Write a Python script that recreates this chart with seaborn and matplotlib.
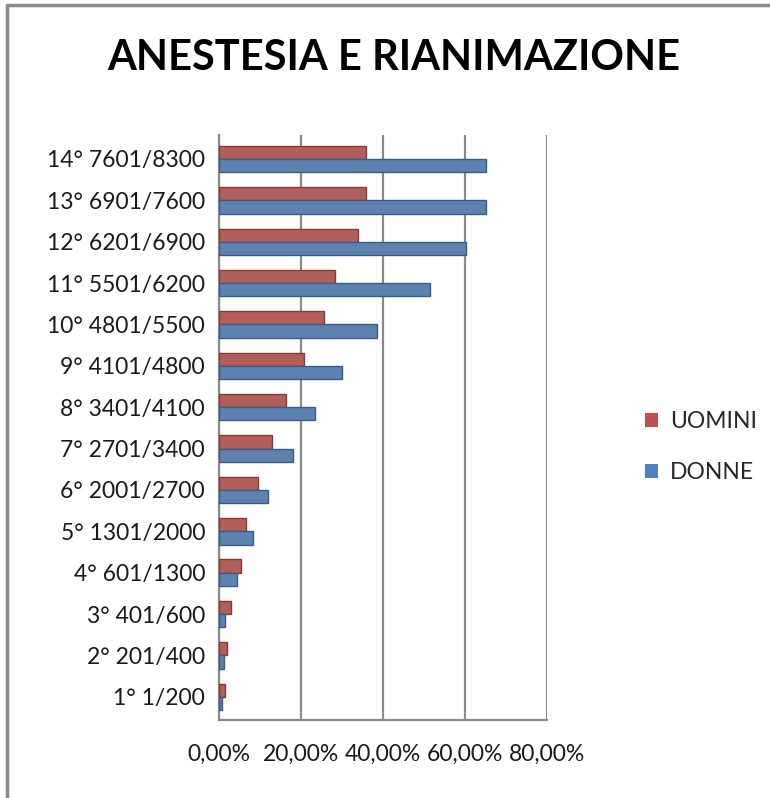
import numpy as np
import pandas as pd
import seaborn as sns
import matplotlib.pyplot as plt
from matplotlib.patches import Patch
from matplotlib.lines import Line2D
from matplotlib.ticker import FuncFormatter

# fasce di reddito, dall'alto in basso come nel grafico
fasce = ['14° 7601/8300', '13° 6901/7600', '12° 6201/6900', '11° 5501/6200',
         '10° 4801/5500', '9° 4101/4800', '8° 3401/4100', '7° 2701/3400',
         '6° 2001/2700', '5° 1301/2000', '4° 601/1300', '3° 401/600',
         '2° 201/400', '1° 1/200']
uomini = [35.9, 35.8, 33.9, 28.4, 25.6, 20.8, 16.4, 12.9, 9.6, 6.5, 5.3, 2.9, 2.0, 1.4]
donne = [65.2, 65.2, 60.2, 51.5, 38.5, 30.1, 23.4, 18.0, 12.0, 8.2, 4.5, 1.5, 1.1, 0.8]
serie = ['UOMINI', 'DONNE']
colori = {'UOMINI': '#C0504D', 'DONNE': '#4F81BD'}
bordi = {'UOMINI': '#8C3836', 'DONNE': '#385D8A'}
xticks = [0, 20, 40, 60, 80]

df = pd.DataFrame({'fascia': fasce * 2,
                   'serie': ['UOMINI'] * len(fasce) + ['DONNE'] * len(fasce),
                   'valore': uomini + donne})

sns.set_style('white')
plt.rcParams['font.family'] = ['Lato', 'DejaVu Sans']

fig = plt.figure(figsize=(7.7, 7.98), dpi=100)
ax = fig.add_axes([219 / 770, 1 - 720 / 798, 328 / 770, 585 / 798])

sns.barplot(data=df, x='valore', y='fascia', hue='serie', order=fasce,
            hue_order=serie, palette=colori, orient='h', width=0.64,
            legend=False, ax=ax, zorder=3)
for cont, s in zip(ax.containers, serie):
    for bar in cont:
        bar.set_edgecolor(bordi[s])
        bar.set_linewidth(1.0)

ax.set_xlim(0, 80)
ax.set_ylim(13.56, -0.58)
ax.set_xticks(xticks)
ax.xaxis.set_major_formatter(FuncFormatter(lambda v, p: f'{v:.2f}%'.replace('.', ',')))
ax.grid(axis='x', color='#8a8a8a', linewidth=1.6, zorder=0)
ax.set_axisbelow(True)
for side in ['top', 'right']:
    ax.spines[side].set_visible(False)
for side in ['left', 'bottom']:
    ax.spines[side].set_color('#8a8a8a')
    ax.spines[side].set_linewidth(1.6)
ax.tick_params(axis='x', length=0, pad=17, labelsize=16.5, labelcolor='#1a1a1a')
ax.tick_params(axis='y', length=0, pad=10, labelsize=16.5, labelcolor='#1a1a1a')
ax.set_xlabel('')
ax.set_ylabel('')

fig.text(394 / 770, 1 - 58 / 798, 'ANESTESIA E RIANIMAZIONE', ha='center', va='center',
         fontsize=30, fontweight='bold', color='black')

handles = [Patch(facecolor=colori[s], edgecolor='none', label=s) for s in serie]
fig.legend(handles=handles, loc='center left', bbox_to_anchor=(624 / 770, 1 - 447 / 798),
           frameon=False, fontsize=16.5, handlelength=0.6, handleheight=0.6,
           handletextpad=0.5, labelspacing=1.3)

# cornice grigia del grafico
fig.add_artist(Line2D([7 / 770, 7 / 770], [0, 1 - 5 / 798], color='#8a8a8a', linewidth=2.5))
fig.add_artist(Line2D([7 / 770, 1], [1 - 5 / 798, 1 - 5 / 798], color='#8a8a8a', linewidth=2.5))

fig.savefig('out.png', dpi=100)
